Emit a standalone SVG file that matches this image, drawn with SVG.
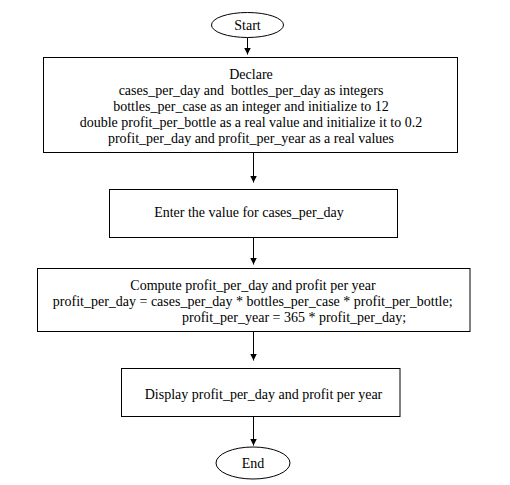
<svg xmlns="http://www.w3.org/2000/svg" width="510" height="485" viewBox="0 0 510 485">
<style>
.box{fill:#fff;stroke:#000;stroke-width:1}
.t{font-family:"Liberation Serif","Times New Roman",serif;font-size:14px;fill:#000;text-anchor:middle}
.c{stroke:#000;stroke-width:1;fill:none;marker-end:url(#ah)}
</style>
<defs>
<marker id="ah" markerUnits="userSpaceOnUse" markerWidth="7" markerHeight="7" refX="7" refY="3.5" orient="auto">
<path d="M0,0 L7,3.5 L0,7 z" fill="#000"/>
</marker>
</defs>
<rect width="510" height="485" fill="#fff"/>
<g id="connectors">
<line class="c" x1="247.5" y1="37.5" x2="247.5" y2="54.5"/>
<line class="c" x1="253.5" y1="152.5" x2="253.5" y2="182.5"/>
<line class="c" x1="253.5" y1="237.5" x2="253.5" y2="264.5"/>
<line class="c" x1="253.5" y1="331.5" x2="253.5" y2="360.5"/>
<line class="c" x1="253.5" y1="416.5" x2="253.5" y2="445.5"/>
</g>
<g id="start">
<ellipse class="box" cx="247.5" cy="25" rx="36" ry="12.5"/>
<text class="t" x="247.5" y="29.5">Start</text>
</g>
<g id="declare">
<rect class="box" x="43.5" y="57.5" width="414" height="95"/>
<text class="t" x="251" y="78.5">Declare</text>
<text class="t" x="251" y="94.5" xml:space="preserve">cases_per_day and  bottles_per_day as integers</text>
<text class="t" x="251" y="110.5">bottles_per_case as an integer and initialize to 12</text>
<text class="t" x="251" y="126.5">double profit_per_bottle as a real value and initialize it to 0.2</text>
<text class="t" x="251" y="142.5">profit_per_day and profit_per_year as a real values</text>
</g>
<g id="enter">
<rect class="box" x="109.5" y="189.5" width="288" height="48"/>
<text class="t" x="249" y="217">Enter the value for cases_per_day</text>
</g>
<g id="compute">
<rect class="box" x="37.5" y="268.5" width="432.5" height="63"/>
<text class="t" x="253" y="290">Compute profit_per_day and profit per year</text>
<text class="t" x="252.7" y="306">profit_per_day = cases_per_day * bottles_per_case * profit_per_bottle;</text>
<text class="t" x="294" y="322">profit_per_year = 365 * profit_per_day;</text>
</g>
<g id="display">
<rect class="box" x="121.5" y="368.5" width="278.5" height="48"/>
<text class="t" x="263.5" y="399">Display profit_per_day and profit per year</text>
</g>
<g id="end">
<ellipse class="box" cx="253" cy="463" rx="37" ry="16"/>
<text class="t" x="253" y="467.5">End</text>
</g>
</svg>
